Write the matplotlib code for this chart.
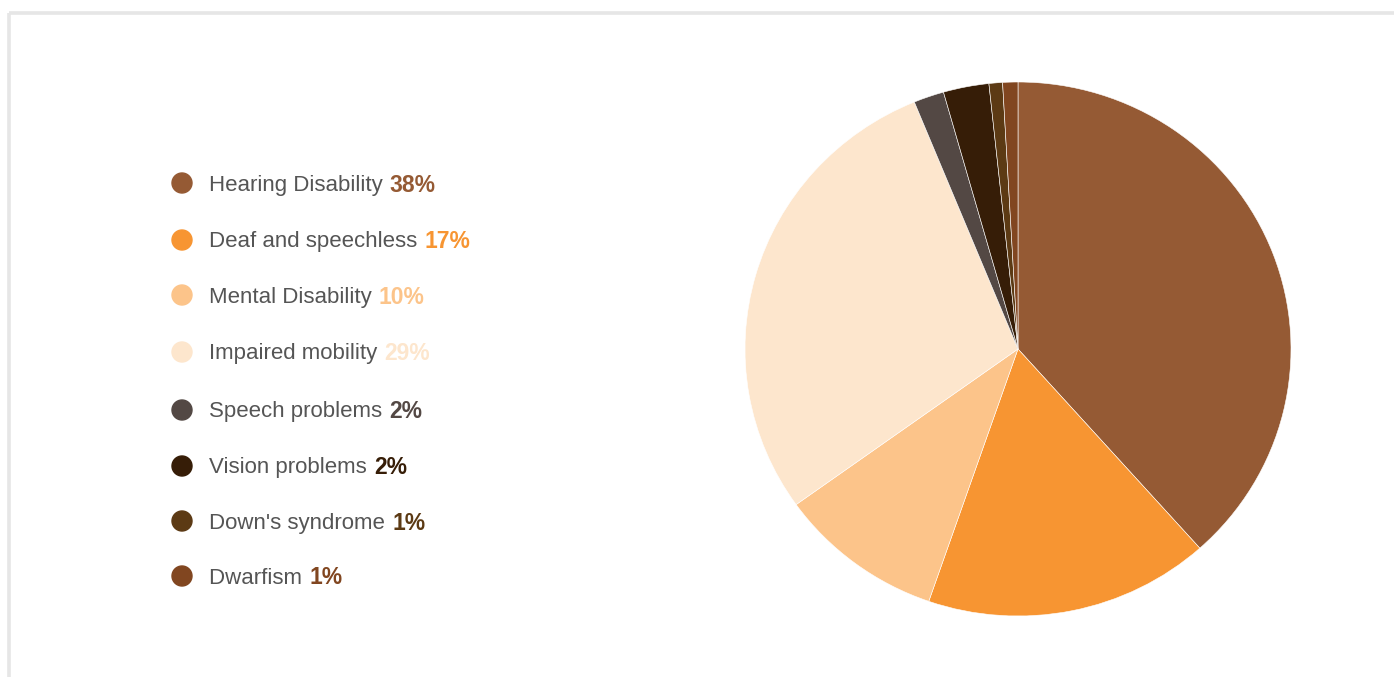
import matplotlib.pyplot as plt
from matplotlib.patches import Circle, Rectangle

# data
categories = ['Hearing Disability', 'Deaf and speechless', 'Mental Disability',
              'Impaired mobility', 'Speech problems', 'Vision problems',
              "Down's syndrome", 'Dwarfism']
shares = [38.4, 16.9, 9.8, 28.7, 1.8, 2.7, 0.8, 0.9]
share_labels = ['38%', '17%', '10%', '29%', '2%', '2%', '1%', '1%']
colors = ['#955a34', '#f79532', '#fcc48a', '#fde6cd',
          '#534844', '#361d07', '#5c3a14', '#814620']

plt.rcParams['font.family'] = ['Liberation Sans', 'DejaVu Sans']

W, H = 1394, 677
fig = plt.figure(figsize=(W / 100, H / 100), dpi=100)

# background axes in pixel coords for border + legend
bg = fig.add_axes([0, 0, 1, 1])
bg.set_xlim(0, W)
bg.set_ylim(H, 0)
bg.axis('off')
bg.add_patch(Rectangle((9, 13), W + 20, H + 20, fill=False,
                       edgecolor='#e6e6e6', linewidth=2.6))

# pie (slightly wider than tall, like the reference)
cx, cy, rx, ry = 1018, 349, 273, 267
ax = fig.add_axes([(cx - rx) / W, (H - cy - ry) / H, 2 * rx / W, 2 * ry / H])
ax.pie(shares, colors=colors, startangle=90, counterclock=False,
       wedgeprops=dict(edgecolor='white', linewidth=0.4))
ax.set_xlim(-1, 1)
ax.set_ylim(-1, 1)
ax.set_aspect('auto')
ax.axis('off')

# legend
legend_y = [183, 240, 295, 352, 410, 466, 521, 576]
fig.canvas.draw()
renderer = fig.canvas.get_renderer()
for name, lab, col, y in zip(categories, share_labels, colors, legend_y):
    bg.add_patch(Circle((182, y), 10, color=col))
    t = bg.text(209, y + 2, name + ' ', fontsize=16, color='#555555',
                va='center', ha='left')
    bb = t.get_window_extent(renderer=renderer)
    x_end = bg.transData.inverted().transform((bb.x1, bb.y0))[0]
    bg.text(x_end + 1, y + 2, lab, fontsize=16.5, color=col, fontweight='bold',
            va='center', ha='left')

fig.savefig('out.png', dpi=100, facecolor='white')
